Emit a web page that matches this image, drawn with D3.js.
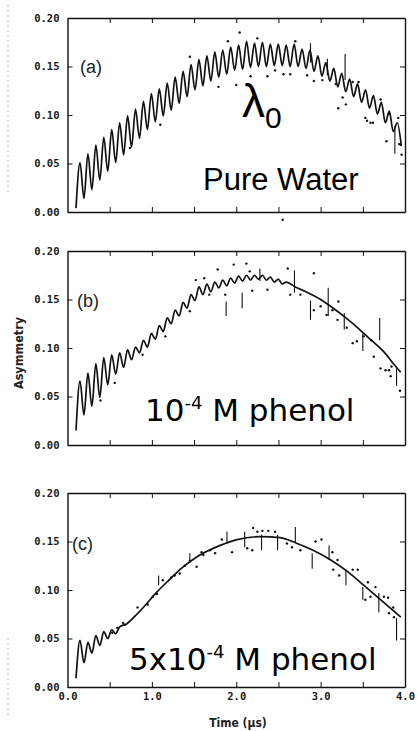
<!DOCTYPE html>
<html>
<head>
<meta charset="utf-8">
<script src="https://cdn.jsdelivr.net/npm/d3@7"></script>
<style>
  body { margin: 0; background: #fff; }
</style>
</head>
<body>
<svg id="chart"></svg>
<script>
// ticks
var timeLabels = [0.0, 1.0, 2.0, 3.0, 4.0];
var timeTicks = [0.5, 1.0, 1.5, 2.0, 2.5, 3.0, 3.5];
var asymTicks = [0.00, 0.05, 0.10, 0.15, 0.20];

// times of the peaks / troughs of the precession wiggle (us)
var wiggleTime = [0.101, 0.148, 0.195, 0.242, 0.289, 0.336, 0.383, 0.430, 0.477, 0.524,
  0.571, 0.618, 0.665, 0.712, 0.759, 0.806, 0.853, 0.900, 0.947, 0.994,
  1.041, 1.088, 1.135, 1.182, 1.229, 1.276, 1.323, 1.370, 1.417, 1.464,
  1.511, 1.558, 1.605, 1.652, 1.699, 1.746, 1.793, 1.840, 1.887, 1.934,
  1.981, 2.028, 2.075, 2.122, 2.169, 2.216, 2.263, 2.310, 2.357, 2.404,
  2.451, 2.498, 2.545, 2.592, 2.639, 2.686, 2.733, 2.780, 2.827, 2.874,
  2.921, 2.968, 3.015, 3.062, 3.109, 3.156, 3.203, 3.250, 3.297, 3.344,
  3.391, 3.438, 3.485, 3.532, 3.579, 3.626, 3.673, 3.720, 3.767, 3.814,
  3.861, 3.908, 3.955];

// (a) pure water
var waterAsym = [0.004, 0.051, 0.014, 0.060, 0.023, 0.069, 0.033, 0.077, 0.042, 0.085,
  0.051, 0.092, 0.059, 0.099, 0.067, 0.106, 0.076, 0.114, 0.085, 0.122,
  0.093, 0.127, 0.099, 0.133, 0.105, 0.139, 0.112, 0.145, 0.119, 0.152,
  0.126, 0.157, 0.130, 0.161, 0.135, 0.165, 0.139, 0.167, 0.142, 0.170,
  0.146, 0.172, 0.147, 0.176, 0.149, 0.174, 0.150, 0.175, 0.150, 0.173,
  0.151, 0.173, 0.151, 0.172, 0.150, 0.173, 0.150, 0.168, 0.148, 0.167,
  0.145, 0.161, 0.140, 0.154, 0.135, 0.148, 0.129, 0.143, 0.124, 0.137,
  0.119, 0.132, 0.113, 0.126, 0.107, 0.120, 0.101, 0.113, 0.092, 0.104,
  0.083, 0.092, 0.069];
var waterDotTime = [2.04, 1.79, 2.00, 2.17, 2.37, 2.46, 2.56, 2.64, 2.92, 3.02, 3.21, 3.30, 3.26,
  3.38, 3.45, 3.71, 3.55, 3.62, 3.81, 3.78, 3.95, 3.96, 3.92, 2.55, 3.53, 3.59, 3.18, 2.84,
  3.93, 1.45, 1.90, 2.25, 2.70, 0.74, 1.10];
var waterDotAsym = [0.185, 0.129, 0.131, 0.140, 0.140, 0.146, 0.142, 0.142, 0.135, 0.136, 0.107, 0.111, 0.118,
  0.134, 0.134, 0.116, 0.094, 0.092, 0.101, 0.073, 0.069, 0.059, 0.097, -0.008, 0.097, 0.092, 0.132, 0.141,
  0.070, 0.160, 0.176, 0.179, 0.176, 0.066, 0.090];
var waterBarTime = [2.88, 3.08, 3.29, 3.88];
var waterBarLow = [0.154, 0.141, 0.136, 0.060];
var waterBarHigh = [0.174, 0.158, 0.163, 0.089];

// (b) 1e-4 M phenol
var phenol1Time = wiggleTime.slice(0, 54).concat([2.70, 2.85, 3.00, 3.15, 3.30, 3.45, 3.60, 3.75, 3.87, 3.95]);
var phenol1Asym = [0.015, 0.066, 0.031, 0.074, 0.040, 0.084, 0.049, 0.090, 0.062, 0.093,
  0.073, 0.095, 0.080, 0.098, 0.088, 0.101, 0.095, 0.108, 0.101, 0.115,
  0.109, 0.123, 0.117, 0.131, 0.125, 0.139, 0.133, 0.147, 0.141, 0.155,
  0.149, 0.163, 0.155, 0.166, 0.158, 0.168, 0.162, 0.170, 0.164, 0.172,
  0.167, 0.174, 0.169, 0.175, 0.170, 0.175, 0.171, 0.175, 0.170, 0.173,
  0.168, 0.171, 0.166, 0.168,
  0.163, 0.157, 0.150, 0.141, 0.131, 0.120, 0.108, 0.096, 0.083, 0.075];
var phenol1DotTime = [1.78, 1.97, 2.12, 2.16, 2.61, 2.92, 1.68, 1.87, 2.19, 2.37, 2.64, 2.76, 2.92, 3.00,
  3.07, 3.14, 3.21, 3.20, 3.31, 3.38, 3.43, 3.51, 3.60, 3.63, 3.71, 3.77, 3.81, 3.83, 3.94, 3.84,
  0.56, 0.39, 1.45, 0.89, 1.16, 1.52, 1.62];
var phenol1DotAsym = [0.181, 0.186, 0.187, 0.179, 0.182, 0.177, 0.155, 0.155, 0.159, 0.160, 0.155, 0.155, 0.139, 0.143,
  0.134, 0.139, 0.148, 0.129, 0.121, 0.105, 0.107, 0.112, 0.108, 0.091, 0.079, 0.077, 0.077, 0.071, 0.056, 0.081,
  0.064, 0.046, 0.138, 0.093, 0.112, 0.170, 0.172];
var phenol1BarTime = [1.88, 2.07, 2.28, 2.69, 2.88, 3.09, 3.28, 3.50, 3.70, 3.90];
var phenol1BarLow = [0.133, 0.141, 0.169, 0.157, 0.129, 0.133, 0.119, 0.097, 0.108, 0.061];
var phenol1BarHigh = [0.148, 0.157, 0.182, 0.180, 0.149, 0.162, 0.136, 0.115, 0.131, 0.081];

// (c) 5e-4 M phenol
var phenol5Time = wiggleTime.slice(0, 12).concat([0.70, 0.80, 0.92, 1.05, 1.20, 1.36, 1.55, 1.81, 2.01,
  2.29, 2.52, 2.72, 2.91, 3.12, 3.32, 3.51, 3.71, 3.95]);
var phenol5Asym = [0.009, 0.048, 0.025, 0.046, 0.035, 0.053, 0.043, 0.057, 0.050, 0.059, 0.055, 0.062,
  0.065, 0.073, 0.084, 0.097, 0.110, 0.123, 0.135, 0.146, 0.152,
  0.155, 0.154, 0.148, 0.141, 0.131, 0.119, 0.105, 0.090, 0.072];
var phenol5DotTime = [2.20, 2.25, 2.31, 2.38, 2.46, 1.95, 2.13, 2.19, 2.60, 2.66, 2.76, 2.94, 3.01, 3.14,
  3.20, 3.15, 3.22, 3.38, 3.44, 3.56, 3.65, 3.53, 3.59, 3.75, 3.80, 3.81, 3.87, 3.86, 1.69, 1.75,
  1.83, 1.61, 0.66, 0.83, 0.95, 1.06, 1.13, 1.27, 1.33, 1.39, 1.45, 1.53, 1.59, 0.68, 0.53, 0.59,
  1.01, 1.23];
var phenol5DotAsym = [0.164, 0.160, 0.161, 0.161, 0.160, 0.139, 0.143, 0.141, 0.148, 0.144, 0.141, 0.150, 0.152, 0.139,
  0.131, 0.121, 0.115, 0.121, 0.121, 0.108, 0.103, 0.090, 0.093, 0.093, 0.092, 0.076, 0.072, 0.082, 0.141, 0.138,
  0.152, 0.136, 0.066, 0.082, 0.085, 0.096, 0.110, 0.115, 0.117, 0.125, 0.130, 0.124, 0.139, 0.064, 0.056, 0.061,
  0.093, 0.113];
var phenol5BarTime = [1.08, 1.45, 1.89, 2.10, 2.30, 2.49, 2.70, 2.90, 3.10, 3.30, 3.50, 3.69, 3.90];
var phenol5BarLow = [0.105, 0.128, 0.148, 0.144, 0.141, 0.141, 0.149, 0.122, 0.131, 0.105, 0.090, 0.077, 0.048];
var phenol5BarHigh = [0.115, 0.138, 0.160, 0.160, 0.157, 0.157, 0.165, 0.138, 0.146, 0.121, 0.103, 0.097, 0.071];

var width = 417, height = 731;
var svg = d3.select("#chart").attr("width", width).attr("height", height);

// faint scanner marks at the left edge
svg.selectAll("line.scan")
    .data([[5, 195], [638, 718]]).enter()
    .append("line")
    .attr("x1", 8).attr("x2", 8)
    .attr("y1", function(d) { return d[0]; })
    .attr("y2", function(d) { return d[1]; })
    .attr("stroke", "#b5b5b5")
    .attr("stroke-dasharray", "2,3");

var x = d3.scaleLinear().domain([0, 4]).range([67.5, 405]);

var panels = [
    {top: 18, tag: "(a)", tagX: 80, tagY: 73,
     time: wiggleTime, asym: waterAsym,
     dotT: waterDotTime, dotA: waterDotAsym,
     barT: waterBarTime, barL: waterBarLow, barH: waterBarHigh},
    {top: 251, tag: "(b)", tagX: 77, tagY: 307,
     time: phenol1Time, asym: phenol1Asym,
     dotT: phenol1DotTime, dotA: phenol1DotAsym,
     barT: phenol1BarTime, barL: phenol1BarLow, barH: phenol1BarHigh},
    {top: 493, tag: "(c)", tagX: 72, tagY: 550,
     time: phenol5Time, asym: phenol5Asym,
     dotT: phenol5DotTime, dotA: phenol5DotAsym,
     barT: phenol5BarTime, barL: phenol5BarLow, barH: phenol5BarHigh}
];

function styleAxis(g) {
    g.select(".domain").attr("stroke", "#111").attr("stroke-width", 1.4);
    g.selectAll(".tick line").attr("stroke", "#111").attr("stroke-width", 1);
    g.selectAll(".tick text")
        .attr("font-family", "DejaVu Sans Mono")
        .attr("font-size", 10.5)
        .attr("font-weight", "bold")
        .attr("fill", "#1a1a1a");
}

panels.forEach(function(p, i) {
    var y = d3.scaleLinear().domain([0, 0.2]).range([p.top + 194, p.top]);
    var g = svg.append("g");
    var last = i == panels.length - 1;

    g.append("g")
        .attr("transform", "translate(" + x(0) + ",0)")
        .call(d3.axisLeft(y).tickValues(asymTicks).tickSize(-5).tickSizeOuter(0)
            .tickPadding(8).tickFormat(d3.format(".2f")))
        .call(styleAxis);

    g.append("g")
        .attr("transform", "translate(" + x(4) + ",0)")
        .call(d3.axisRight(y).tickValues(asymTicks.slice(1, 4)).tickSize(-5).tickSizeOuter(0)
            .tickFormat(""))
        .call(styleAxis);

    g.append("g")
        .attr("transform", "translate(0," + y(0.2) + ")")
        .call(d3.axisTop(x).tickValues(timeTicks).tickSize(-5).tickSizeOuter(0).tickFormat(""))
        .call(styleAxis);

    g.append("g")
        .attr("transform", "translate(0," + y(0) + ")")
        .call(d3.axisBottom(x).tickValues(timeTicks).tickSize(-5).tickSizeOuter(0).tickFormat(""))
        .call(styleAxis);

    if (last) {
        g.append("g")
            .attr("transform", "translate(0," + y(0) + ")")
            .call(d3.axisBottom(x).tickValues(timeLabels).tickSize(0).tickPadding(6)
                .tickFormat(d3.format(".1f")))
            .call(styleAxis)
            .call(function(a) { a.select(".domain").remove(); });
    }

    var line = d3.line()
        .x(function(d) { return x(d[0]); })
        .y(function(d) { return y(d[1]); })
        .curve(d3.curveMonotoneX);

    g.append("path")
        .datum(d3.zip(p.time, p.asym))
        .attr("d", line)
        .attr("fill", "none")
        .attr("stroke", "#111")
        .attr("stroke-width", 1.7)
        .attr("stroke-linejoin", "round");

    g.selectAll("circle")
        .data(d3.zip(p.dotT, p.dotA)).enter()
        .append("circle")
        .attr("cx", function(d) { return x(d[0]); })
        .attr("cy", function(d) { return y(d[1]); })
        .attr("r", 1.2)
        .attr("fill", "#111");

    g.selectAll("line.bar")
        .data(d3.zip(p.barT, p.barL, p.barH)).enter()
        .append("line")
        .attr("class", "bar")
        .attr("x1", function(d) { return x(d[0]); })
        .attr("x2", function(d) { return x(d[0]); })
        .attr("y1", function(d) { return y(d[1]); })
        .attr("y2", function(d) { return y(d[2]); })
        .attr("stroke", "#111")
        .attr("stroke-width", 1.1);

    g.append("text")
        .attr("x", p.tagX)
        .attr("y", p.tagY)
        .attr("font-family", "Liberation Sans")
        .attr("font-size", 18)
        .attr("fill", "#222")
        .text(p.tag);
});

// axis titles
svg.append("text")
    .attr("transform", "translate(23,353) rotate(-90)")
    .attr("text-anchor", "middle")
    .attr("font-family", "DejaVu Sans")
    .attr("font-stretch", "condensed")
    .attr("font-weight", "bold")
    .attr("font-size", 12.5)
    .attr("fill", "#222")
    .text("Asymmetry");

svg.append("text")
    .attr("x", 238)
    .attr("y", 727)
    .attr("text-anchor", "middle")
    .attr("font-family", "DejaVu Sans")
    .attr("font-stretch", "condensed")
    .attr("font-weight", "bold")
    .attr("font-size", 12)
    .attr("fill", "#222")
    .text("Time (µs)");

// annotations
var lam = svg.append("text")
    .attr("x", 242)
    .attr("y", 117)
    .attr("font-family", "Liberation Sans")
    .attr("font-size", 46)
    .attr("fill", "#000");
lam.append("tspan").text("λ");
lam.append("tspan").attr("font-size", 30).attr("dy", 11).text("0");

svg.append("text")
    .attr("x", 203)
    .attr("y", 190)
    .attr("font-family", "Liberation Sans")
    .attr("font-size", 31)
    .attr("fill", "#000")
    .text("Pure Water");

function phenolLabel(xPos, yPos, lead) {
    var t = svg.append("text")
        .attr("x", xPos)
        .attr("y", yPos)
        .attr("font-family", "DejaVu Sans")
        .attr("font-size", 31)
        .attr("fill", "#000");
    t.append("tspan").text(lead);
    t.append("tspan").attr("font-size", 18).attr("dy", -12).text("-4");
    t.append("tspan").attr("dy", 12).text(" M phenol");
}
phenolLabel(145, 421, "10");
phenolLabel(129, 670, "5x10");
</script>
</body>
</html>
